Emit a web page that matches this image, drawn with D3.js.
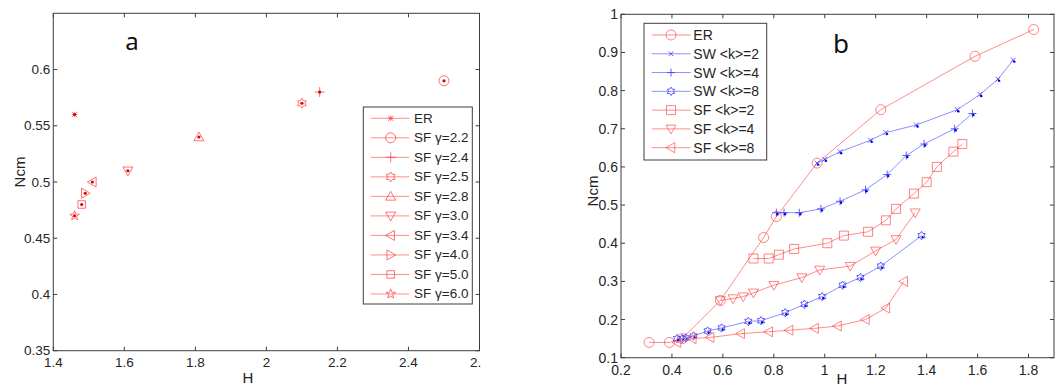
<!DOCTYPE html>
<html>
<head>
<meta charset="utf-8">
<script src="https://cdn.jsdelivr.net/npm/d3@7"></script>
<style>
  html, body { margin: 0; padding: 0; background: #fff; }
  svg { display: block; }
  text { font-family: "Liberation Sans", Arial, sans-serif; }
</style>
</head>
<body>
<div id="chart"></div>
<script>
/* Two MATLAB-style panels: (a) Ncm vs H per network class, (b) Ncm vs H curves */

// --- panel a data ---------------------------------------------------
var aLabels = ["ER", "SF γ=2.2", "SF γ=2.4", "SF γ=2.5", "SF γ=2.8",
               "SF γ=3.0", "SF γ=3.4", "SF γ=4.0", "SF γ=5.0", "SF γ=6.0"];
var aH   = [1.46, 2.50, 2.15, 2.10, 1.81, 1.61, 1.51, 1.49, 1.48, 1.46];
var aNcm = [0.56, 0.59, 0.58, 0.57, 0.54, 0.51, 0.50, 0.49, 0.48, 0.47];
var aTicksX = [1.4, 1.6, 1.8, 2.0, 2.2, 2.4, 2.6];
var aTicksY = [0.35, 0.4, 0.45, 0.5, 0.55, 0.6];

// --- panel b data ---------------------------------------------------
var bLabels = ["ER", "SW <k>=2", "SW <k>=4", "SW <k>=8", "SF <k>=2", "SF <k>=4", "SF <k>=8"];
var erH    = [0.31, 0.39, 0.44, 0.59, 0.76, 0.81, 0.97, 1.22, 1.59, 1.82];
var erNcm  = [0.14, 0.14, 0.15, 0.25, 0.415, 0.47, 0.61, 0.75, 0.89, 0.96];
var sw2H   = [0.97, 1.00, 1.06, 1.18, 1.24, 1.36, 1.52, 1.61, 1.68, 1.74];
var sw2Ncm = [0.61, 0.62, 0.64, 0.67, 0.69, 0.71, 0.75, 0.79, 0.83, 0.88];
var sw4H   = [0.81, 0.84, 0.90, 0.985, 1.06, 1.16, 1.245, 1.32, 1.39, 1.51, 1.58];
var sw4Ncm = [0.48, 0.48, 0.48, 0.49, 0.51, 0.54, 0.58, 0.63, 0.66, 0.70, 0.74];
var sw8H   = [0.42, 0.44, 0.455, 0.485, 0.54, 0.595, 0.70, 0.75, 0.845, 0.92, 0.99, 1.07, 1.14, 1.22, 1.38];
var sw8Ncm = [0.15, 0.15, 0.152, 0.157, 0.17, 0.178, 0.195, 0.197, 0.218, 0.24, 0.26, 0.29, 0.31, 0.34, 0.42];
var sf2H   = [0.72, 0.78, 0.82, 0.88, 1.01, 1.075, 1.17, 1.24, 1.28, 1.35, 1.40, 1.44, 1.505, 1.54];
var sf2Ncm = [0.36, 0.36, 0.37, 0.385, 0.40, 0.42, 0.43, 0.46, 0.49, 0.53, 0.56, 0.60, 0.64, 0.66];
var sf4H   = [0.59, 0.64, 0.68, 0.72, 0.80, 0.91, 0.98, 1.10, 1.20, 1.28, 1.355];
var sf4Ncm = [0.25, 0.255, 0.26, 0.27, 0.29, 0.31, 0.33, 0.34, 0.38, 0.41, 0.48];
var sf8H   = [0.42, 0.48, 0.55, 0.67, 0.78, 0.86, 0.96, 1.05, 1.16, 1.24, 1.31];
var sf8Ncm = [0.14, 0.15, 0.153, 0.163, 0.168, 0.172, 0.177, 0.183, 0.20, 0.23, 0.30];
var bTicksX = [0.2, 0.4, 0.6, 0.8, 1.0, 1.2, 1.4, 1.6, 1.8];
var bTicksY = [0.1, 0.2, 0.3, 0.4, 0.5, 0.6, 0.7, 0.8, 0.9, 1.0];

(function () {
  "use strict";

  var W = 1060, H = 386;
  var RED = "#ff3b3b", RED_LINE = "#ff8c8c", BLUE = "#3a3aff", BLUE_LINE = "#8f8fff";
  var FRAME = "#3c3c3c";

  var svg = d3.select("#chart").append("svg").attr("width", W).attr("height", H);

  // marker glyphs, MATLAB-ish, as path strings centred on 0,0
  function star(n, ro, ri) {
    var p = d3.path();
    for (var i = 0; i < 2 * n; i++) {
      var a = -Math.PI / 2 + i * Math.PI / n, r = i % 2 ? ri : ro;
      if (i === 0) p.moveTo(r * Math.cos(a), r * Math.sin(a));
      else p.lineTo(r * Math.cos(a), r * Math.sin(a));
    }
    p.closePath();
    return p.toString();
  }
  function glyph(kind, r) {
    var k = r * 0.75;
    switch (kind) {
      case "circle": return "M" + r + ",0A" + r + "," + r + " 0 1 1 " + (-r) + ",0A" + r + "," + r + " 0 1 1 " + r + ",0Z";
      case "square": return "M" + (-k) + "," + (-k) + "H" + k + "V" + k + "H" + (-k) + "Z";
      case "triUp": return "M0," + (-r) + "L" + r + "," + k + "L" + (-r) + "," + k + "Z";
      case "triDown": return "M0," + r + "L" + r + "," + (-k) + "L" + (-r) + "," + (-k) + "Z";
      case "triLeft": return "M" + (-r) + ",0L" + k + "," + (-r) + "L" + k + "," + r + "Z";
      case "triRight": return "M" + r + ",0L" + (-k) + "," + (-r) + "L" + (-k) + "," + r + "Z";
      case "plus": return "M" + (-r) + ",0H" + r + "M0," + (-r) + "V" + r;
      case "cross": return "M" + (-k) + "," + (-k) + "L" + k + "," + k + "M" + k + "," + (-k) + "L" + (-k) + "," + k;
      case "asterisk": return glyph("plus", r * 0.8) + glyph("cross", r);
      case "pentagram": return star(5, r, r * 0.42);
      case "hexagram": return star(6, r, r * 0.6);
    }
    return "";
  }

  function frame(g, x, y, ticksX, ticksY, tickFont) {
    var x0 = x.range()[0], x1 = x.range()[1], y0 = y.range()[0], y1 = y.range()[1];
    g.append("rect").attr("x", x0).attr("y", y1).attr("width", x1 - x0).attr("height", y0 - y1)
      .attr("fill", "none").attr("stroke", FRAME).attr("stroke-width", 1);
    var t = 4;
    ticksX.forEach(function (v) {
      g.append("line").attr("x1", x(v)).attr("x2", x(v)).attr("y1", y0).attr("y2", y0 - t).attr("stroke", FRAME);
      g.append("line").attr("x1", x(v)).attr("x2", x(v)).attr("y1", y1).attr("y2", y1 + t).attr("stroke", FRAME);
      g.append("text").attr("x", x(v)).attr("y", y0 + 12).attr("text-anchor", "middle")
        .attr("dominant-baseline", "central").style("font-size", tickFont + "px").attr("fill", "#262626")
        .text(String(+v.toFixed(2)));
    });
    ticksY.forEach(function (v) {
      g.append("line").attr("x1", x0).attr("x2", x0 + t).attr("y1", y(v)).attr("y2", y(v)).attr("stroke", FRAME);
      g.append("line").attr("x1", x1).attr("x2", x1 - t).attr("y1", y(v)).attr("y2", y(v)).attr("stroke", FRAME);
      g.append("text").attr("x", x0 - 3).attr("y", y(v)).attr("text-anchor", "end")
        .attr("dominant-baseline", "central").style("font-size", tickFont + "px").attr("fill", "#262626")
        .text(String(+v.toFixed(2)));
    });
  }

  // --- panel a -------------------------------------------------------
  var defs = svg.append("defs");
  defs.append("clipPath").attr("id", "clipA").append("rect")
    .attr("x", 0).attr("y", 0).attr("width", 481).attr("height", H);
  var gA = svg.append("g").attr("clip-path", "url(#clipA)");
  var xA = d3.scaleLinear().domain([1.4, 2.6]).range([53.3, 479.5]);
  var yA = d3.scaleLinear().domain([0.35, 0.65]).range([350.7, 13.3]);
  frame(gA, xA, yA, aTicksX, aTicksY, 13.5);

  var MARK_A = ["asterisk", "circle", "plus", "hexagram", "triUp", "triDown", "triLeft", "triRight", "square", "pentagram"];
  aLabels.forEach(function (lab, i) {
    var cx = xA(aH[i]), cy = yA(aNcm[i]);
    gA.append("path").attr("transform", "translate(" + cx + "," + cy + ")")
      .attr("d", glyph(MARK_A[i], i === 0 ? 3.5 : 5)).attr("fill", "none")
      .attr("stroke", RED).attr("stroke-width", 0.9).attr("opacity", 0.8);
    gA.append("circle").attr("cx", cx).attr("cy", cy).attr("r", 1.6).attr("fill", "#e00000");
  });

  gA.append("text").attr("x", 132).attr("y", 50).attr("text-anchor", "middle")
    .style("font-family", "'Noto Sans', sans-serif").style("font-size", "24px").attr("fill", "#111").text("a");
  gA.append("text").attr("x", 248).attr("y", 377).attr("text-anchor", "middle")
    .attr("dominant-baseline", "central").style("font-size", "15px").attr("fill", "#222").text("H");
  gA.append("text").attr("transform", "translate(19,172) rotate(-90)").attr("text-anchor", "middle")
    .attr("dominant-baseline", "central").style("font-size", "15px").attr("fill", "#222").text("Ncm");

  // legend a
  var legA = gA.append("g");
  legA.append("rect").attr("x", 363.3).attr("y", 107).attr("width", 109).attr("height", 197)
    .attr("fill", "#fff").attr("stroke", FRAME).attr("stroke-width", 1);
  aLabels.forEach(function (lab, i) {
    var ry = 118.3 + i * 19.52;
    legA.append("line").attr("x1", 370.7).attr("x2", 409.3).attr("y1", ry).attr("y2", ry)
      .attr("stroke", RED_LINE).attr("stroke-width", 1);
    legA.append("path").attr("transform", "translate(390.7," + ry + ")")
      .attr("d", glyph(MARK_A[i], i === 0 ? 3.5 : 5)).attr("fill", "none")
      .attr("stroke", RED).attr("stroke-width", 0.9).attr("opacity", 0.8);
    legA.append("text").attr("x", 414).attr("y", ry).attr("dominant-baseline", "central")
      .style("font-size", "13.5px").attr("fill", "#262626").text(lab);
  });

  // --- panel b -------------------------------------------------------
  var gB = svg.append("g");
  var xB = d3.scaleLinear().domain([0.2, 1.9]).range([621, 1054]);
  var yB = d3.scaleLinear().domain([0.1, 1.0]).range([357.7, 14.3]);
  frame(gB, xB, yB, bTicksX, bTicksY, 14);

  var seriesB = [
    { h: erH, n: erNcm, mark: "circle", blue: false },
    { h: sw2H, n: sw2Ncm, mark: "cross", blue: true },
    { h: sw4H, n: sw4Ncm, mark: "plus", blue: true },
    { h: sw8H, n: sw8Ncm, mark: "hexagram", blue: true },
    { h: sf2H, n: sf2Ncm, mark: "square", blue: false },
    { h: sf4H, n: sf4Ncm, mark: "triDown", blue: false },
    { h: sf8H, n: sf8Ncm, mark: "triLeft", blue: false }
  ];
  function markSize(m) { return m === "cross" ? 3.2 : m === "plus" ? 4 : m === "hexagram" ? 4.2 : m === "square" ? 6 : 5; }

  var line = d3.line().x(function (d) { return xB(d[0]); }).y(function (d) { return yB(d[1]); });
  seriesB.forEach(function (s) {
    var pts = s.h.map(function (v, i) { return [v, s.n[i]]; });
    gB.append("path").attr("d", line(pts)).attr("fill", "none")
      .attr("stroke", s.blue ? BLUE_LINE : RED_LINE).attr("stroke-width", 1);
    pts.forEach(function (p) {
      gB.append("path").attr("transform", "translate(" + xB(p[0]) + "," + yB(p[1]) + ")")
        .attr("d", glyph(s.mark, markSize(s.mark))).attr("fill", "none")
        .attr("stroke", s.blue ? BLUE : RED).attr("stroke-width", 0.9).attr("opacity", s.blue ? 0.9 : 0.7);
      if (s.blue) {
        gB.append("circle").attr("cx", xB(p[0]) + 1).attr("cy", yB(p[1]) + 1.5).attr("r", 1.2).attr("fill", "#0000c8");
      }
    });
  });

  gB.append("text").attr("x", 841).attr("y", 53).attr("text-anchor", "middle")
    .style("font-family", "'Noto Sans', sans-serif").style("font-size", "26px").attr("fill", "#111").text("b");
  gB.append("text").attr("x", 842).attr("y", 378).attr("text-anchor", "middle")
    .attr("dominant-baseline", "central").style("font-size", "15px").attr("fill", "#222").text("H");
  gB.append("text").attr("transform", "translate(592,191) rotate(-90)").attr("text-anchor", "middle")
    .attr("dominant-baseline", "central").style("font-size", "15px").attr("fill", "#222").text("Ncm");

  // legend b
  var legB = gB.append("g");
  legB.append("rect").attr("x", 644).attr("y", 23.3).attr("width", 122.7).attr("height", 136.7)
    .attr("fill", "#fff").attr("stroke", FRAME).attr("stroke-width", 1);
  bLabels.forEach(function (lab, i) {
    var ry = 35 + i * 18.78, s = seriesB[i];
    legB.append("line").attr("x1", 651.7).attr("x2", 690.7).attr("y1", ry).attr("y2", ry)
      .attr("stroke", s.blue ? BLUE_LINE : RED_LINE).attr("stroke-width", 1);
    legB.append("path").attr("transform", "translate(671," + ry + ")")
      .attr("d", glyph(s.mark, markSize(s.mark))).attr("fill", "none")
      .attr("stroke", s.blue ? BLUE : RED).attr("stroke-width", 0.9).attr("opacity", s.blue ? 0.9 : 0.7);
    legB.append("text").attr("x", 693.3).attr("y", ry).attr("dominant-baseline", "central")
      .style("font-size", "14px").attr("fill", "#262626").text(lab);
  });
})();
</script>
</body>
</html>
